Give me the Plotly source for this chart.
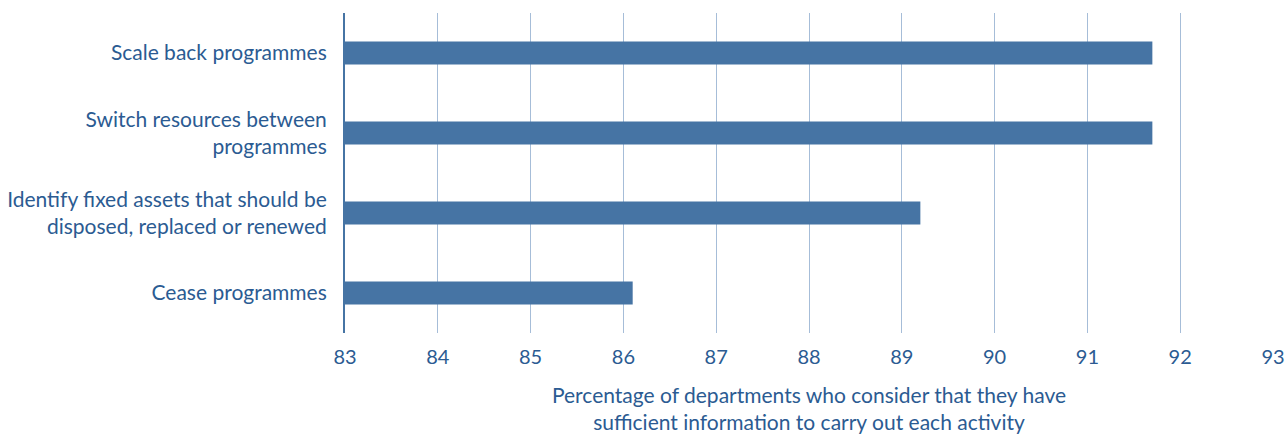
import plotly.graph_objects as go

# Activities (top to bottom) and share of departments with sufficient information
activities = [
    "Scale back programmes",
    "Switch resources between<br>programmes",
    "Identify fixed assets that should be<br>disposed, replaced or renewed",
    "Cease programmes",
]
percentages = [91.7, 91.7, 89.2, 86.1]
x_ticks = [83, 84, 85, 86, 87, 88, 89, 90, 91, 92, 93]
AXIS_START = 83

BAR_BLUE = "#4674a4"
TEXT_BLUE = "#2b5b92"
GRID_BLUE = "#a6bdd8"
FONT = "Lato, 'Noto Sans', sans-serif"

fig = go.Figure(
    go.Bar(
        # bars start at the axis origin, so draw the length beyond it
        x=[p - AXIS_START for p in percentages],
        y=activities,
        base=AXIS_START,
        orientation="h",
        marker=dict(color=BAR_BLUE, line=dict(width=0)),
        width=0.29,
        hoverinfo="skip",
    )
)

fig.update_layout(
    width=1287,
    height=434,
    margin=dict(l=345, r=14, t=13, b=101, autoexpand=False),
    paper_bgcolor="white",
    plot_bgcolor="white",
    showlegend=False,
    font=dict(family=FONT, color=TEXT_BLUE),
)

fig.update_xaxes(
    range=[83, 93],
    tickvals=x_ticks,
    ticktext=[str(t) for t in x_ticks],
    automargin=False,
    showgrid=True,
    gridcolor=GRID_BLUE,
    gridwidth=1.4,
    zeroline=False,
    showline=False,
    ticks="",
    ticklabelstandoff=10,
    tickfont=dict(size=20, color=TEXT_BLUE, family=FONT),
    title=dict(
        text="Percentage of departments who consider that they have<br>sufficient information to carry out each activity",
        font=dict(size=21, color=TEXT_BLUE, family=FONT),
        standoff=22,
    ),
)

fig.update_yaxes(
    autorange="reversed",
    automargin=False,
    showgrid=False,
    showline=True,
    linecolor=BAR_BLUE,
    linewidth=2,
    ticks="",
    ticklabelstandoff=12,
    tickfont=dict(size=21, color=TEXT_BLUE, family=FONT),
)

fig.write_html("out.html")
